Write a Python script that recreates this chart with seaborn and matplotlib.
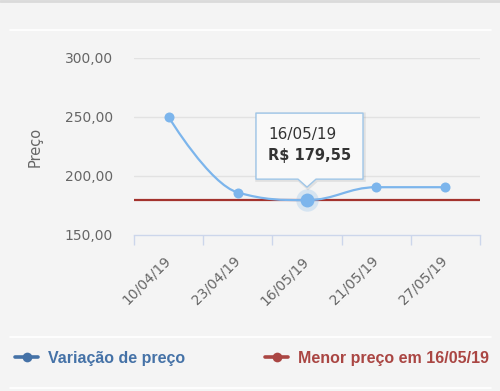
import numpy as np
import matplotlib
matplotlib.use("Agg")
import matplotlib.pyplot as plt
import seaborn as sns
import pandas as pd
from matplotlib.path import Path
from matplotlib.patches import PathPatch
from matplotlib.lines import Line2D
import matplotlib.transforms as mtransforms

# ---------------- data ----------------
dates = ["10/04/19", "23/04/19", "16/05/19", "21/05/19", "27/05/19"]
prices = [250.0, 186.0, 179.55, 190.5, 190.5]
min_price = 179.55
min_index = 2
y_ticks = [150, 200, 250, 300]
y_tick_labels = ["150,00", "200,00", "250,00", "300,00"]
series_names = ["Variação de preço", "Menor preço em 16/05/19"]
tooltip_date = "16/05/19"
tooltip_value = "R$ 179,55"
y_title = "Preço"

# ---------------- style ----------------
sns.set_theme(style="white")
plt.rcParams["font.family"] = ["DejaVu Sans"]

BG = "#f4f4f4"
BLUE = "#7cb5ec"
BLUE_LEG = "#4572a7"
RED = "#a3322d"
RED_LEG = "#aa4643"
AXIS = "#ccd6eb"
GRID = "#e2e2e2"
TXT = "#666666"

W, H = 500, 391
fig = plt.figure(figsize=(W / 100, H / 100), dpi=100, facecolor=BG)
ax = fig.add_axes([134 / W, 1 - 235 / H, (480 - 134) / W, (235 - 58) / H])
ax.set_facecolor(BG)

df = pd.DataFrame({"x": np.arange(len(dates)), "price": prices})
ax.set_xlim(-0.5, len(dates) - 0.5)
ax.set_ylim(150, 300)

# grid lines
for yv in y_ticks[1:]:
    ax.axhline(yv, color=GRID, lw=1.0, zorder=0)

# ---------------- spline (Highcharts-like) ----------------
def spline_path(xs, ys, smoothing=1.5):
    n = len(xs)
    left = [None] * n
    right = [None] * n
    for i in range(n):
        if i == 0 or i == n - 1:
            left[i] = (xs[i], ys[i])
            right[i] = (xs[i], ys[i])
            continue
        d = smoothing + 1
        lx = (smoothing * xs[i] + xs[i - 1]) / d
        ly = (smoothing * ys[i] + ys[i - 1]) / d
        rx = (smoothing * xs[i] + xs[i + 1]) / d
        ry = (smoothing * ys[i] + ys[i + 1]) / d
        corr = ((ry - ly) * (rx - xs[i])) / (rx - lx) + ys[i] - ry
        ly += corr
        ry += corr
        py, lasty, nexty = ys[i], ys[i - 1], ys[i + 1]
        if ly > lasty and ly > py:
            ly = max(lasty, py); ry = 2 * py - ly
        elif ly < lasty and ly < py:
            ly = min(lasty, py); ry = 2 * py - ly
        if ry > nexty and ry > py:
            ry = max(nexty, py); ly = 2 * py - ry
        elif ry < nexty and ry < py:
            ry = min(nexty, py); ly = 2 * py - ry
        left[i] = (lx, ly)
        right[i] = (rx, ry)
    verts = [(xs[0], ys[0])]
    codes = [Path.MOVETO]
    for i in range(1, n):
        verts += [right[i - 1], left[i], (xs[i], ys[i])]
        codes += [Path.CURVE4] * 3
    return Path(verts, codes)

path = spline_path(list(df["x"]), list(df["price"]))
ax.add_patch(PathPatch(path, facecolor="none", edgecolor=BLUE, lw=1.6,
                       zorder=3, capstyle="round", joinstyle="round"))

# minimum price line
ax.axhline(min_price, color=RED, lw=1.6, zorder=2)

# points
sns.scatterplot(data=df, x="x", y="price", color=BLUE, s=52, linewidth=0,
                zorder=4, ax=ax, legend=False)
# hovered point (halo + larger marker)
sns.scatterplot(data=df.iloc[[min_index]], x="x", y="price", color=BLUE,
                s=260, linewidth=0, alpha=0.25, zorder=4, ax=ax, legend=False)
sns.scatterplot(data=df.iloc[[min_index]], x="x", y="price", color=BLUE,
                s=100, linewidth=0, zorder=5, ax=ax, legend=False)

# ---------------- axes ----------------
for s in ["top", "right", "left"]:
    ax.spines[s].set_visible(False)
ax.spines["bottom"].set_color(AXIS)
ax.spines["bottom"].set_linewidth(1.0)

ax.set_yticks(y_ticks)
ax.set_yticklabels(y_tick_labels)
ax.tick_params(axis="y", length=0, pad=15, labelsize=10, labelcolor=TXT)

ax.set_xticks(df["x"])
ax.set_xticklabels(dates, rotation=45, ha="right", va="center",
                   rotation_mode="anchor")
ax.tick_params(axis="x", which="major", length=0, pad=17, labelsize=10,
               labelcolor=TXT)
ax.set_xticks(np.arange(-0.5, len(dates)), minor=True)
ax.tick_params(axis="x", which="minor", length=7.5, width=1.0, color=AXIS,
               direction="out", bottom=True)

ax.set_xlabel("")
ax.set_ylabel(y_title, color=TXT, fontsize=10.5)
ax.yaxis.set_label_coords((43 - 134) / (480 - 134), 0.5)

# ---------------- tooltip ----------------
fig.canvas.draw()
px, py = ax.transData.transform((df["x"][min_index], df["price"][min_index]))
tr = mtransforms.Affine2D().translate(px, py)
bx0, bx1, by0, by1 = -51, 56, 21, 87
tip = 13
pw = 9
box_verts = [(bx0, by0), (-pw, by0), (0, tip), (pw, by0), (bx1, by0),
             (bx1, by1), (bx0, by1), (bx0, by0)]
box_codes = [Path.MOVETO] + [Path.LINETO] * 6 + [Path.CLOSEPOLY]
shadow_tr = mtransforms.Affine2D().translate(px + 1, py - 1)
fig.add_artist(PathPatch(Path(box_verts, box_codes), facecolor="none",
                         edgecolor="#000000", alpha=0.08, lw=2.5,
                         transform=shadow_tr, zorder=9))
fig.add_artist(PathPatch(Path(box_verts, box_codes), facecolor="#f9f9f9",
                         edgecolor="#9fc6e8", lw=1.0, transform=tr,
                         zorder=10, joinstyle="round"))
fig.text(-39, 66, tooltip_date, transform=tr, fontsize=11, color="#333333",
         ha="left", va="center", zorder=11)
fig.text(-39, 45, tooltip_value, transform=tr, fontsize=10.5,
         fontweight="bold", color="#333333", ha="left", va="center",
         zorder=11)

# ---------------- decorations ----------------
fig.add_artist(Line2D([0, 1], [1 - 1 / H, 1 - 1 / H], color="#dadada", lw=2,
                      transform=fig.transFigure))
for yy in [30, 337, 388]:
    fig.add_artist(Line2D([10 / W, 491 / W], [1 - yy / H, 1 - yy / H],
                          color="#ffffff", lw=1.2, transform=fig.transFigure))

# ---------------- legend ----------------
handles = [
    Line2D([0], [0], color=BLUE_LEG, lw=2.6, marker="o", ms=7,
           markeredgewidth=0),
    Line2D([0], [0], color=RED_LEG, lw=2.6, marker="o", ms=7,
           markeredgewidth=0),
]
fig.legend(handles=handles, labels=series_names, loc="center",
           bbox_to_anchor=(252 / W, 1 - 358 / H), ncol=2, frameon=False,
           prop={"family": "Liberation Sans", "weight": "bold", "size": 11.5},
           handlelength=1.45, handletextpad=0.6, columnspacing=5.0,
           labelcolor=[BLUE_LEG, RED_LEG])

fig.savefig("out.png", dpi=100, facecolor=BG)
